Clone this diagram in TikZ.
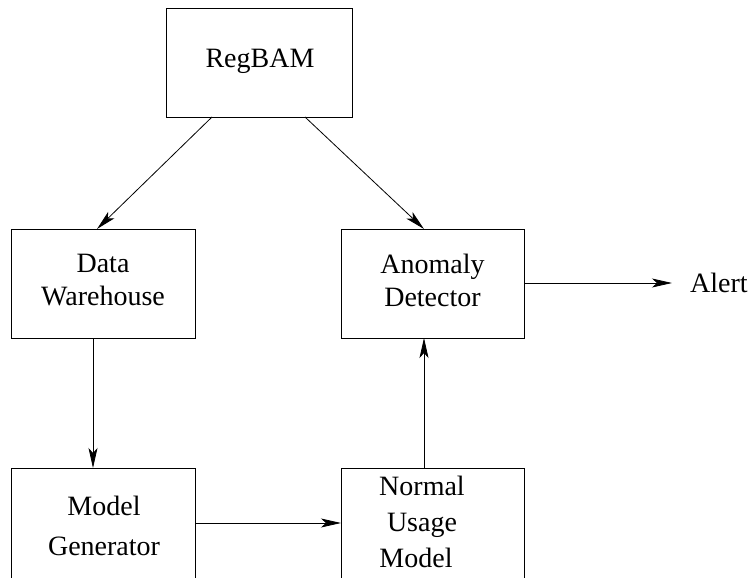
\documentclass[tikz,border=0pt]{standalone}
\usepackage{fontspec}
\setmainfont{Liberation Serif}
\usetikzlibrary{arrows.meta}
\begin{document}
\begin{tikzpicture}[x=1pt,y=-1pt,
  box/.style={draw=black, line width=0.8pt, inner sep=0pt},
  lbl/.style={font=\fontsize{28}{33}\selectfont, align=center, inner sep=0pt},
  arr/.style={line width=0.8pt, -{Stealth[length=20pt,width=9pt,inset=5pt]}}]
\useasboundingbox (0,0) rectangle (753,578);
\clip (0,0) rectangle (753,578);
% boxes
\draw[box] (166,8) rectangle (352,117);
\draw[box] (11,229) rectangle (195,338);
\draw[box] (341,229) rectangle (524,338);
\draw[box] (11,468) rectangle (195,600);
\draw[box] (341,468) rectangle (524,600);
% labels
\node[lbl] (reg) at (260,61) {RegBAM};
\node[lbl] (dw) at (103,280) {Data\\Warehouse};
\node[lbl] (ad) at (432.5,280) {Anomaly\\Detector};
\node[lbl, font=\fontsize{28}{40}\selectfont] (mg) at (104,526) {Model\\Generator};
\node[lbl, font=\fontsize{28}{36}\selectfont] (num) at (422,522) {Normal\\Usage\\Model\hspace*{12pt}};
\node[lbl, anchor=west] (alert) at (690,283) {Alert};
% connector end points on box edges
\coordinate (r1) at (212,117);
\coordinate (r2) at (305,117);
\coordinate (dwt) at (97,229);
\coordinate (adt) at (424,229);
\coordinate (dwb) at (93,338);
\coordinate (mgt) at (93,468);
\coordinate (mgr) at (195,523);
\coordinate (numl) at (341,523);
\coordinate (numt) at (424,468);
\coordinate (adb) at (424,338);
\coordinate (adr) at (524,283);
\coordinate (alt) at (672,283);
\draw[arr] (r1) -- (dwt);
\draw[arr] (r2) -- (adt);
\draw[arr] (dwb) -- (mgt);
\draw[arr] (mgr) -- (numl);
\draw[arr] (numt) -- (adb);
\draw[arr] (adr) -- (alt);
\end{tikzpicture}
\end{document}
